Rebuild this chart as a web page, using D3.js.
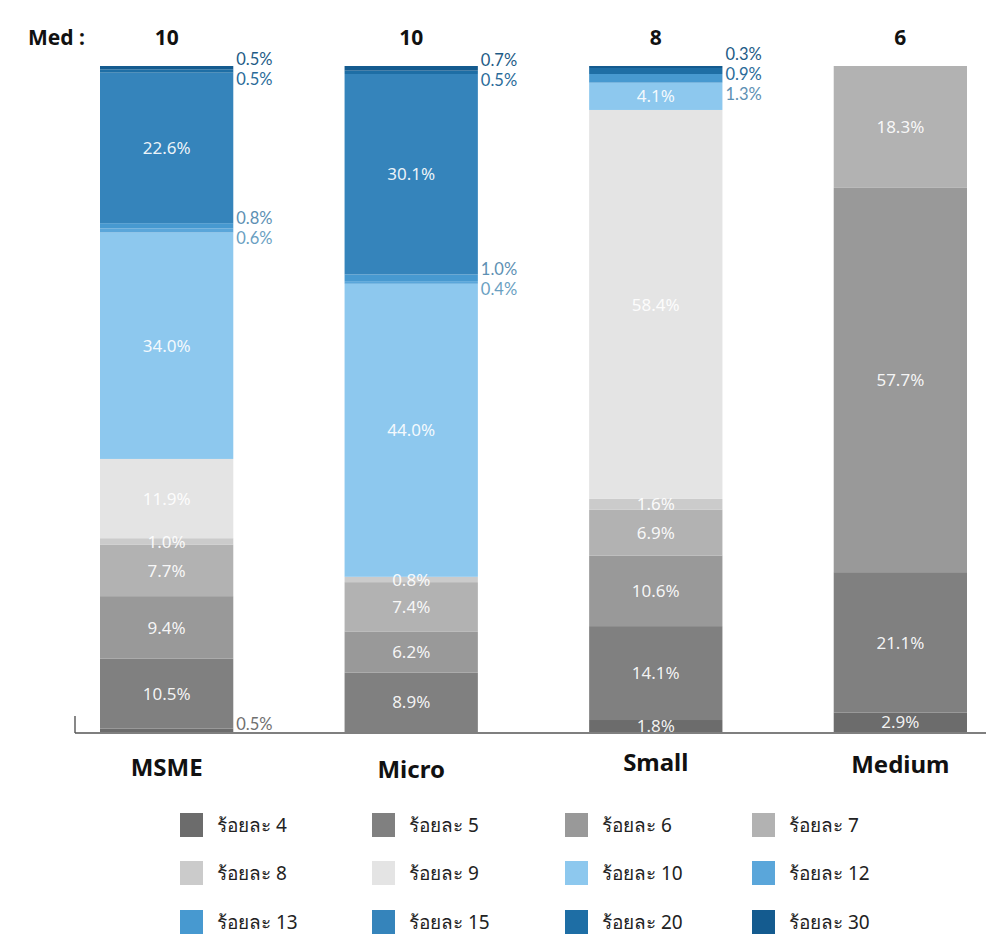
<!DOCTYPE html>
<html>
<head>
<meta charset="utf-8">
<script src="https://cdn.jsdelivr.net/npm/d3@7"></script>
<style>
  html, body { margin: 0; padding: 0; background: #ffffff; }
  svg { display: block; font-family: "Noto Sans", "Open Sans", "DejaVu Sans", sans-serif; }
  .side-label { font-family: "Lato", "Noto Sans", sans-serif; }
</style>
</head>
<body>
<svg id="chart" width="986" height="938"></svg>
<script>
// Firm-size groups and their median interest rate
const categories = ["MSME", "Micro", "Small", "Medium"];
const medians = [10, 10, 8, 6];

// Interest-rate buckets (per cent) – stacked bottom to top
const rates = [4, 5, 6, 7, 8, 9, 10, 12, 13, 15, 20, 30];
const rateLabels = ["ร้อยละ 4", "ร้อยละ 5", "ร้อยละ 6", "ร้อยละ 7", "ร้อยละ 8", "ร้อยละ 9",
                    "ร้อยละ 10", "ร้อยละ 12", "ร้อยละ 13", "ร้อยละ 15", "ร้อยละ 20", "ร้อยละ 30"];

// Share of loans (%) in each rate bucket, one array per group
const msmeShare   = [0.5, 10.5, 9.4, 7.7, 1.0, 11.9, 34.0, 0.6, 0.8, 22.6, 0.5, 0.5];
const microShare  = [0.0, 8.9, 6.2, 7.4, 0.8, 0.0, 44.0, 0.4, 1.0, 30.1, 0.5, 0.7];
const smallShare  = [1.8, 14.1, 10.6, 6.9, 1.6, 58.4, 4.1, 0.0, 1.3, 0.0, 0.9, 0.3];
const mediumShare = [2.9, 21.1, 57.7, 18.3, 0.0, 0.0, 0.0, 0.0, 0.0, 0.0, 0.0, 0.0];

const rateColors = ["#6c6c6c", "#808080", "#999999", "#b2b2b2", "#cbcbcb", "#e4e4e4",
                    "#8dc8ee", "#5aa6da", "#4799d0", "#3584bb", "#1e6ea5", "#145b8f"];
const outsideColors = ["#707070", "#707070", "#707070", "#707070", "#707070", "#707070",
                       "#7fbbe2", "#6a9fc2", "#5d90b3", "#3f7fae", "#2a6b99", "#1d5b86"];

// Build a wide table for d3.stack
const shares = [msmeShare, microShare, smallShare, mediumShare];
const table = categories.map((c, i) => {
  const row = { group: c };
  rates.forEach((r, j) => { row["r" + r] = shares[i][j]; });
  return row;
});
const keys = rates.map(r => "r" + r);
const series = d3.stack().keys(keys)(table);

const svg = d3.select("#chart");

const x = d3.scaleBand().domain(categories).range([100, 967]).paddingInner(0.455).paddingOuter(0);
const y = d3.scaleLinear().domain([0, 100]).range([732, 66]);

const color = d3.scaleOrdinal().domain(keys).range(rateColors);

// Stacked segments
const layer = svg.append("g").selectAll("g").data(series).join("g")
  .attr("fill", d => color(d.key));

layer.selectAll("rect").data(d => d.map(v => ({ v, key: d.key })))
  .join("rect")
  .attr("x", d => x(d.v.data.group))
  .attr("y", d => y(d.v[1]))
  .attr("width", x.bandwidth())
  .attr("height", d => Math.max(0, y(d.v[0]) - y(d.v[1])));

// Baseline with a short tick at its left end
svg.append("line")
  .attr("x1", 75).attr("x2", 986)
  .attr("y1", 733).attr("y2", 733)
  .attr("stroke", "#555").attr("stroke-width", 1.4);
svg.append("line")
  .attr("x1", 75).attr("x2", 75)
  .attr("y1", 716).attr("y2", 733)
  .attr("stroke", "#555").attr("stroke-width", 1.4);

// Value labels
const fmt = v => v.toFixed(1) + "%";
const isInside = s => s.v >= 2 || (s.j <= 5 && s.v >= 0.75);

categories.forEach((cat, ci) => {
  const segs = [];
  let acc = 0;
  rates.forEach((r, j) => {
    const v = shares[ci][j];
    if (v > 0) segs.push({ j, v, y0: acc, y1: acc + v });
    acc += v;
  });

  const inside = segs.filter(isInside);
  const outside = segs.filter(s => !isInside(s));

  // labels drawn inside the bar
  svg.append("g").selectAll("text").data(inside).join("text")
    .attr("x", x(cat) + x.bandwidth() / 2)
    .attr("y", s => (y(s.y0) + y(s.y1)) / 2)
    .attr("dy", "0.36em")
    .attr("text-anchor", "middle")
    .attr("font-size", 17)
    .attr("fill", "#ffffff")
    .attr("fill-opacity", 0.92)
    .text(s => fmt(s.v));

  // thin segments labelled on the right, grouped and spread vertically
  const groups = [];
  outside.forEach(s => {
    const g = groups[groups.length - 1];
    if (g && Math.abs(g[g.length - 1].y1 - s.y0) < 0.01) g.push(s); else groups.push([s]);
  });
  const step = 20;
  groups.forEach(g => {
    const centre = (y(g[0].y0) + y(g[g.length - 1].y1)) / 2;
    const n = g.length;
    g.forEach((s, k) => {
      const ly = Math.min(centre + ((n - 1) / 2 - k) * step, 724);
      svg.append("text")
        .attr("class", "side-label")
        .attr("x", x(cat) + x.bandwidth() + 3)
        .attr("y", ly)
        .attr("dy", "0.36em")
        .attr("font-size", 16.5)
        .attr("fill", outsideColors[s.j])
        .text(fmt(s.v));
    });
  });
});

// Median row
svg.append("text").attr("x", 28).attr("y", 45)
  .attr("font-size", 21).attr("font-weight", 700).attr("fill", "#111")
  .text("Med :");
svg.append("g").selectAll("text").data(categories).join("text")
  .attr("x", d => x(d) + x.bandwidth() / 2)
  .attr("y", 45)
  .attr("text-anchor", "middle")
  .attr("font-size", 21).attr("font-weight", 700).attr("fill", "#111")
  .text((d, i) => medians[i]);

// Category axis labels
const catY = [776, 778, 771, 773];
svg.append("g").selectAll("text").data(categories).join("text")
  .attr("x", d => x(d) + x.bandwidth() / 2)
  .attr("y", (d, i) => catY[i])
  .attr("text-anchor", "middle")
  .attr("font-size", 24).attr("font-weight", 700).attr("fill", "#111")
  .text(d => d);

// Legend, 4 columns x 3 rows
const legX = [180, 372, 565, 752];
const legY = [825, 873, 922];
const leg = svg.append("g").selectAll("g").data(rates).join("g")
  .attr("transform", (d, i) => `translate(${legX[i % 4]},${legY[Math.floor(i / 4)]})`);
leg.append("rect").attr("x", 0).attr("y", -12).attr("width", 23).attr("height", 24)
  .attr("fill", (d, i) => rateColors[i]);
leg.append("text").attr("x", 37).attr("dy", "0.36em")
  .attr("font-size", 19).attr("fill", "#222")
  .text((d, i) => rateLabels[i]);
</script>
</body>
</html>
